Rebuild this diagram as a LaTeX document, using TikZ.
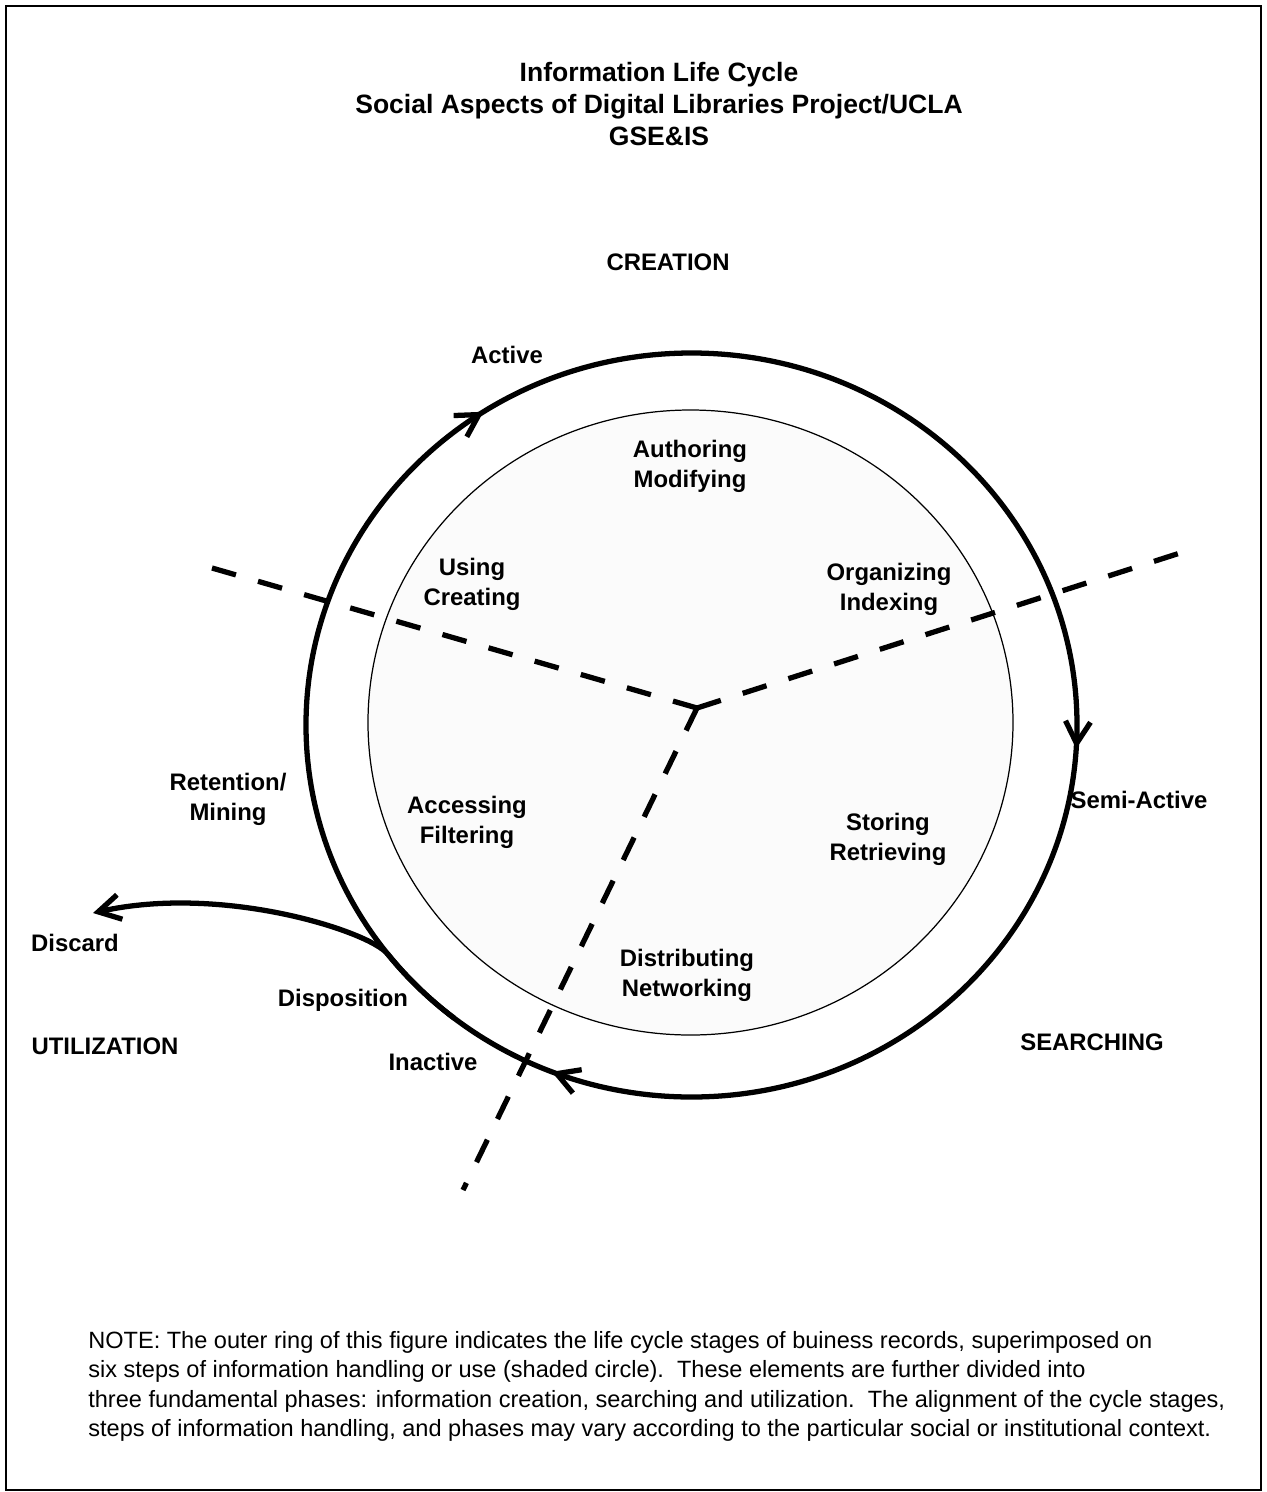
\documentclass[tikz,border=0pt]{standalone}
\usepackage{fontspec}
\setmainfont{Liberation Sans}
\usetikzlibrary{arrows.meta,decorations.markings}

\begin{document}
\begin{tikzpicture}[x=0.02cm,y=-0.02cm,
    lbl/.style={font=\fontsize{13.6}{17}\selectfont\bfseries, align=center, inner sep=0pt},
    ring/.style={line width=3pt},
    barb/.style={-{Straight Barb[length=4.4mm,width=5mm]}},
    divider/.style={line width=3pt, dash pattern=on 0.5cm off 0.46cm}]
    \useasboundingbox (0,0) rectangle (1267,1492);
    \draw[line width=0.8pt] (6,6) rectangle (1261,1490);
    \node[lbl, font=\fontsize{15.1}{18.2}\selectfont\bfseries] (title) at (659,104) {Information Life Cycle\\Social Aspects of Digital Libraries Project/UCLA\\GSE\&IS};
    \node[lbl] (creation) at (668,262) {CREATION};

    \filldraw[fill=gray!3, line width=0.7pt] (690.5,722.5) ellipse [x radius=322.5, y radius=312.5];
    \coordinate (hub) at (697,708);
    \coordinate (cutnw) at (212,568);
    \coordinate (cutne) at (1180,553);
    \coordinate (cuts) at (463,1190);
    \foreach \c in {cutnw,cutne,cuts}
        \draw[divider] (hub) -- (\c);

    \coordinate (ctr) at (691.5,725);
    \draw[ring, postaction={decorate}, decoration={markings,
        mark=at position 0.01 with {\arrow{Straight Barb[length=4.4mm,width=5mm]}},
        mark=at position 0.31 with {\arrow{Straight Barb[length=4.4mm,width=5mm]}},
        mark=at position 0.658 with {\arrow{Straight Barb[length=4.4mm,width=5mm]}}}]
        (ctr) ellipse [x radius=385.5, y radius=372];
    \coordinate (bin) at (93,913);
    \draw[ring, barb] (ctr) ++(128:385.5 and 372) arc[start angle=128, end angle=142, x radius=385.5, y radius=372]
        .. controls (369,931) and (222,884) .. (bin);

    \node[lbl] (active) at (507,355) {Active};
    \node[lbl] (authoring) at (690,466) {Authoring\\Modifying};
    \node[lbl] (using) at (472,584) {Using\\Creating};
    \node[lbl] (organizing) at (889,589) {Organizing\\Indexing};
    \node[lbl] (retention) at (228,799) {Retention/\\Mining};
    \node[lbl] (accessing) at (467,822) {Accessing\\Filtering};
    \node[lbl] (semiactive) at (1139,800) {Semi-Active};
    \node[lbl] (storing) at (888,839) {Storing\\Retrieving};
    \node[lbl] (discard) at (75,943) {Discard};
    \node[lbl] (distributing) at (687,975) {Distributing\\Networking};
    \node[lbl] (disposition) at (343,1000) {Disposition};
    \node[lbl] (utilization) at (105,1046) {UTILIZATION};
    \node[lbl] (searching) at (1092,1042) {SEARCHING};
    \node[lbl] (inactive) at (433,1062) {Inactive};

    \node[font=\fontsize{13.4}{16.8}\selectfont, align=left, inner sep=0pt, anchor=north west] (note) at (88,1331)
        {NOTE: The outer ring of this figure indicates the life cycle stages of buiness records, superimposed on\\
         six steps of information handling or use (shaded circle).\ \ These elements are further divided into\\
         three fundamental phases: information creation, searching and utilization.\ \ The alignment of the cycle stages,\\
         steps of information handling, and phases may vary according to the particular social or institutional context.};
\end{tikzpicture}
\end{document}
